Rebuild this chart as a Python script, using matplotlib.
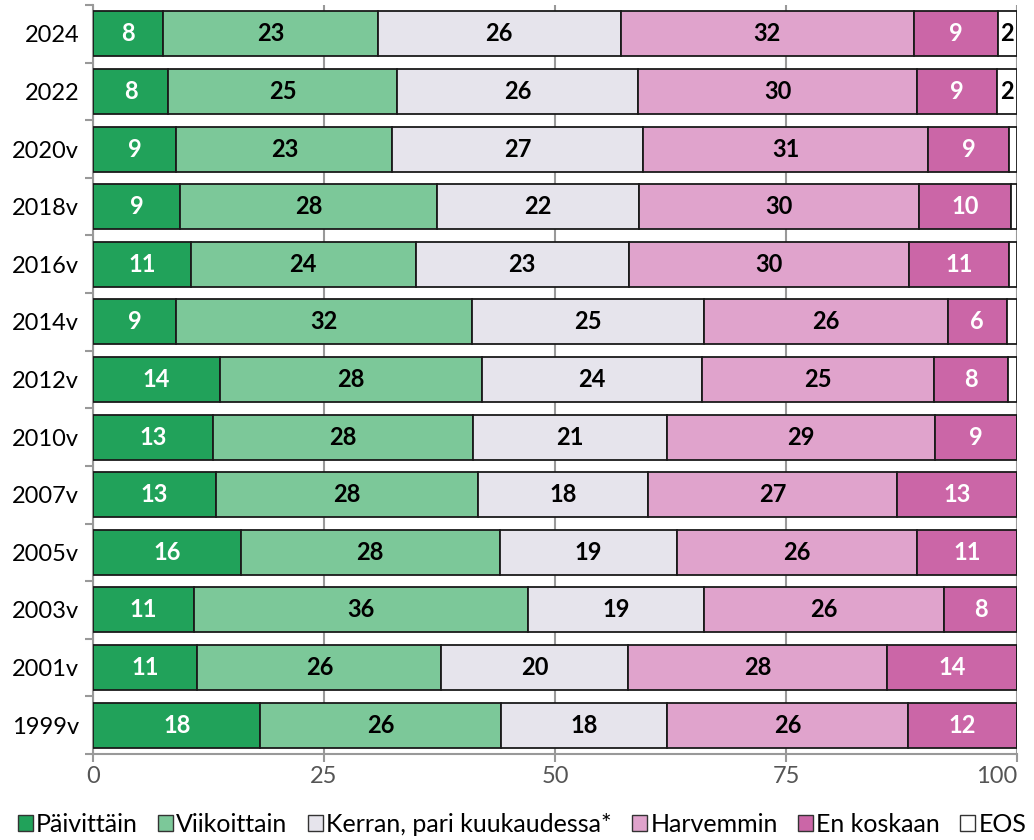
import numpy as np
import matplotlib
matplotlib.use("Agg")
import matplotlib.pyplot as plt
from matplotlib.patches import Patch

plt.rcParams['font.family'] = ['Lato', 'DejaVu Sans']

years = ['2024', '2022', '2020v', '2018v', '2016v', '2014v', '2012v',
         '2010v', '2007v', '2005v', '2003v', '2001v', '1999v']
categories = ['Päivittäin', 'Viikoittain', 'Kerran, pari kuukaudessa*',
              'Harvemmin', 'En koskaan', 'EOS']

paivittain = [7.6, 8.1, 9.0, 9.4, 10.6, 9.0, 13.7, 13.0, 13.3, 16.0, 10.9, 11.3, 18.1]
viikoittain = [23.2, 24.8, 23.4, 27.8, 24.3, 32.0, 28.4, 28.1, 28.4, 28.0, 36.2, 26.4, 26.1]
kerran = [26.3, 26.1, 27.1, 21.9, 23.1, 25.1, 23.8, 21.0, 18.4, 19.2, 19.0, 20.2, 17.9]
harvemmin = [31.7, 30.2, 30.9, 30.3, 30.3, 26.4, 25.1, 29.0, 26.9, 26.0, 26.0, 28.0, 26.1]
en_koskaan = [9.1, 8.6, 8.7, 10.0, 10.8, 6.4, 8.0, 8.9, 13.0, 10.8, 7.9, 14.1, 11.8]
eos = [2.1, 2.2, 0.9, 0.6, 0.9, 1.1, 1.0, 0, 0, 0, 0, 0, 0]

series = [paivittain, viikoittain, kerran, harvemmin, en_koskaan, eos]
colors = ['#21a25a', '#7cc899', '#e6e4ec', '#e0a3cc', '#cb66a7', '#ffffff']
text_colors = ['white', 'black', 'black', 'black', 'white', 'black']

fig = plt.figure(figsize=(10.34, 8.4), dpi=100)
ax = fig.add_axes([0.090, 0.1024, 0.8936, 0.8916])

y = np.arange(len(years))
left = np.zeros(len(years))
for vals, col, tcol, name in zip(series, colors, text_colors, categories):
    vals = np.array(vals)
    bars = ax.barh(y, vals, left=left, height=0.78, color=col,
                   edgecolor='#1a1a1a', linewidth=1.3, label=name, zorder=3)
    labels = [str(int(round(v))) if v >= 1.5 else '' for v in vals]
    ax.bar_label(bars, labels=labels, label_type='center', color=tcol,
                 fontsize=17, fontweight='bold', zorder=4)
    left += vals

ax.set_xlim(0, 100)
ax.set_ylim(len(years) - 0.5, -0.5)
ax.set_xticks([0, 25, 50, 75, 100])
ax.set_yticks(y)
ax.set_yticklabels(years)
ax.set_yticks(np.arange(-0.5, len(years)), minor=True)
ax.tick_params(axis='y', which='major', length=0, labelsize=17, pad=10)
ax.tick_params(axis='y', which='minor', length=6, color='#999999', width=1.5)
ax.tick_params(axis='x', length=6, color='#999999', width=1.5,
               labelsize=17, labelcolor='#555555', pad=3)
ax.grid(axis='x', color='#999999', linewidth=1.5, zorder=0)
for s in ['top', 'right']:
    ax.spines[s].set_visible(False)
for s in ['left', 'bottom']:
    ax.spines[s].set_color('#999999')
    ax.spines[s].set_linewidth(1.5)

# keep the last tick label inside the figure
ax.get_xticklabels()[-1].set_ha('right')

handles = [Patch(facecolor=c, edgecolor='#333333', linewidth=1) for c in colors]
fig.legend(handles, categories, loc='lower center', bbox_to_anchor=(0.505, -0.022),
           ncol=6, frameon=False, fontsize=18, handlelength=0.6, handleheight=0.6,
           handletextpad=0.12, columnspacing=0.82)

fig.savefig('out.png', dpi=100)
